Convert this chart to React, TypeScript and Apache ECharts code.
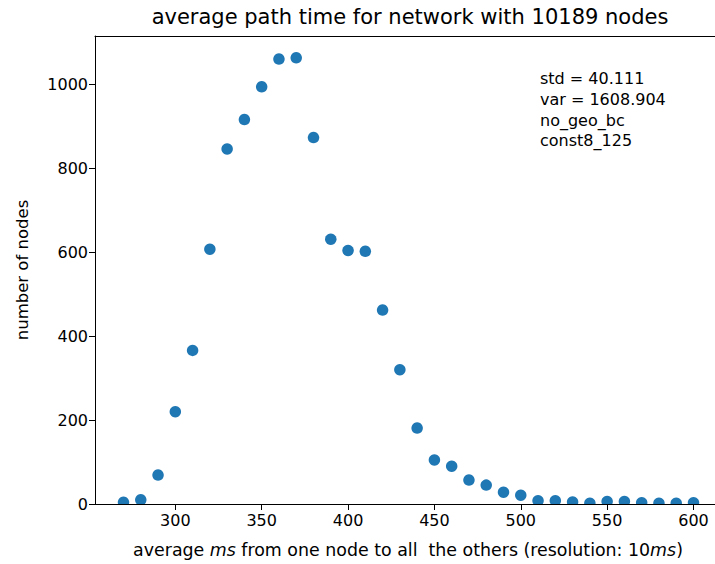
import React, { useEffect, useRef } from "react";
import * as echarts from "echarts";

const xValues = [270, 280, 290, 300, 310, 320, 330, 340, 350, 360, 370, 380, 390, 400, 410, 420, 430, 440, 450, 460, 470, 480, 490, 500, 510, 520, 530, 540, 550, 560, 570, 580, 590, 600];
const yValues = [4, 10, 69, 220, 366, 607, 846, 916, 994, 1060, 1063, 873, 631, 604, 602, 462, 320, 181, 105, 90, 57, 45, 28, 21, 8, 8, 5, 2, 6, 6, 3, 2, 2, 3];
const xTicks = [300, 350, 400, 450, 500, 550, 600];
const yTicks = [0, 200, 400, 600, 800, 1000];
const titleText = "average path time for network with 10189 nodes";
const annotationLines = ["std = 40.111", "var = 1608.904", "no_geo_bc", "const8_125"];

const FONT = "'DejaVu Sans', sans-serif";

export default function App() {
  const ref = useRef<HTMLDivElement>(null);
  useEffect(() => {
    document.body.style.margin = "0";
    document.body.style.overflow = "hidden";
    document.documentElement.style.overflow = "hidden";
    const chart = echarts.init(ref.current!, null, { renderer: "svg" });
    const data = xValues.map((x, i) => [x, yValues[i]]);
    chart.setOption({
      animation: false,
      backgroundColor: "#ffffff",
      textStyle: { fontFamily: FONT },
      grid: { left: 95, top: 36, right: 0, bottom: 60, containLabel: false },
      xAxis: [
        {
          type: "value",
          min: 253.5,
          max: 616.5,
          z: 10,
          axisLine: { show: true, lineStyle: { color: "#000", width: 1 } },
          axisTick: { show: true, length: 6, lineStyle: { color: "#000" }, customValues: xTicks },
          axisLabel: {
            show: true,
            color: "#000",
            fontSize: 16,
            fontFamily: FONT,
            margin: 8,
            customValues: xTicks,
            formatter: (v: number) => String(v),
          },
          splitLine: { show: false },
        },
        {
          type: "value",
          position: "top",
          min: 253.5,
          max: 616.5,
          z: 10,
          axisLine: { show: true, lineStyle: { color: "#000", width: 1 } },
          axisTick: { show: false },
          axisLabel: { show: false },
          splitLine: { show: false },
        },
      ],
      yAxis: {
        type: "value",
        min: 0,
        max: 1115,
        z: 10,
        axisLine: { show: true, lineStyle: { color: "#000", width: 1 } },
        axisTick: { show: true, length: 6, lineStyle: { color: "#000" }, customValues: yTicks },
        axisLabel: {
          show: true,
          color: "#000",
          fontSize: 16,
          fontFamily: FONT,
          margin: 7,
          customValues: yTicks,
          formatter: (v: number) => String(v),
        },
        splitLine: { show: false },
        name: "number of nodes",
        nameLocation: "middle",
        nameGap: 64,
        nameRotate: 90,
        nameTextStyle: { color: "#000", fontSize: 16.5, fontFamily: FONT },
      },
      graphic: [
        {
          type: "rect",
          z: 5,
          shape: { x: 95.5, y: 504.5, width: 640, height: 9 },
          style: { fill: "#ffffff" },
          silent: true,
        },
        {
          type: "text",
          x: 410,
          y: 17,
          z: 20,
          style: {
            text: titleText,
            fill: "#000",
            font: `21px ${FONT}`,
            textAlign: "center",
            textVerticalAlign: "middle",
          },
        },
        {
          type: "text",
          x: 408,
          y: 550,
          z: 20,
          style: {
            rich: {
              n: { fontSize: 17.4, fontFamily: FONT, fill: "#000" },
              i: { fontSize: 17.4, fontFamily: FONT, fill: "#000", fontStyle: "italic" },
            },
            text: "{n|average }{i|ms}{n| from one node to all  the others (resolution: 10}{i|ms}{n|)}",
            textAlign: "center",
            textVerticalAlign: "middle",
          },
        },
        {
          type: "text",
          x: 540,
          y: 68.5,
          z: 20,
          style: {
            text: annotationLines.join("\n"),
            fill: "#000",
            font: `16px ${FONT}`,
            lineHeight: 20.7,
            textAlign: "left",
            textVerticalAlign: "top",
          },
        },
      ],
      series: [
        {
          type: "scatter",
          xAxisIndex: 0,
          data,
          symbol: "circle",
          symbolSize: 11.5,
          itemStyle: { color: "#1f77b4", opacity: 1 },
          z: 2,
          clip: false,
        },
      ],
    });
    return () => chart.dispose();
  }, []);
  return <div ref={ref} style={{ width: 722, height: 564 }} />;
}
